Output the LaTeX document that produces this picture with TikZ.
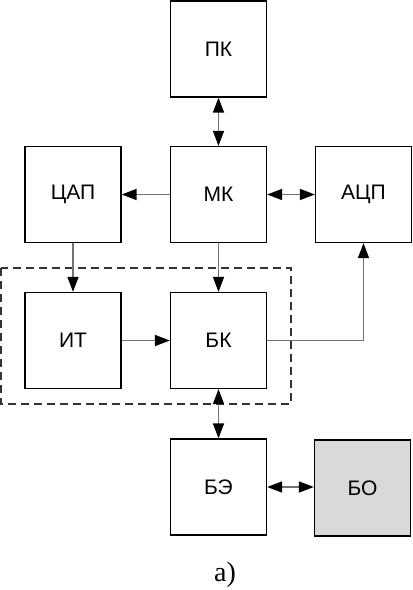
\documentclass[tikz,border=0pt]{standalone}
\usepackage{fontspec}
\setmainfont{Liberation Serif}
\newfontfamily\labfont{Liberation Sans}
\usetikzlibrary{arrows.meta}
\begin{document}
\begin{tikzpicture}[x=1pt,y=-1pt,
  blk/.style={draw=black, line width=1.3pt, minimum width=96pt, minimum height=96pt, inner sep=0pt, font=\labfont\fontsize{21}{25}\selectfont, anchor=center},
  tip/.style={},
  conn/.style={draw=black!55, line width=1.5pt, -{Triangle[length=15pt,width=11pt,fill=black,color=black]}},
  bconn/.style={draw=black!55, line width=1.5pt, {Triangle[length=15pt,width=11pt,fill=black,color=black]}-{Triangle[length=15pt,width=11pt,fill=black,color=black]}}]
\useasboundingbox (0,0) rectangle (413,590);
\fill[white] (0,0) rectangle (413,590);
\draw[black!80, line width=1.5pt, dash pattern=on 8pt off 5pt] (1,268) rectangle (291,404);
\node[blk] (pk) at (218.5,49) {ПК};
\node[blk] (cap) at (73,194.5) {ЦАП};
\node[blk] (mk) at (218.5,194.5) {МК};
\node[blk] (acp) at (363.5,194.5) {АЦП};
\node[blk] (it) at (73,340.5) {ИТ};
\node[blk] (bk) at (218.5,340.5) {БК};
\node[blk] (be) at (218.5,487) {БЭ};
\node[blk, fill=black!15] (bo) at (362.5,488) {БО};
\node[font=\fontsize{28}{32}\selectfont] (lab) at (225,575) {а)};
\draw[bconn] (pk) -- (mk);
\draw[conn] (mk) -- (cap);
\draw[bconn] (mk) -- (acp);
\draw[conn] (cap) -- (it);
\draw[conn] (mk) -- (bk);
\draw[conn] (it) -- (bk);
\draw[conn] (bk.east) -| (acp.south);
\draw[bconn] (bk) -- (be);
\draw[bconn] (be.east) -- (be.east -| bo.west);
\end{tikzpicture}
\end{document}
